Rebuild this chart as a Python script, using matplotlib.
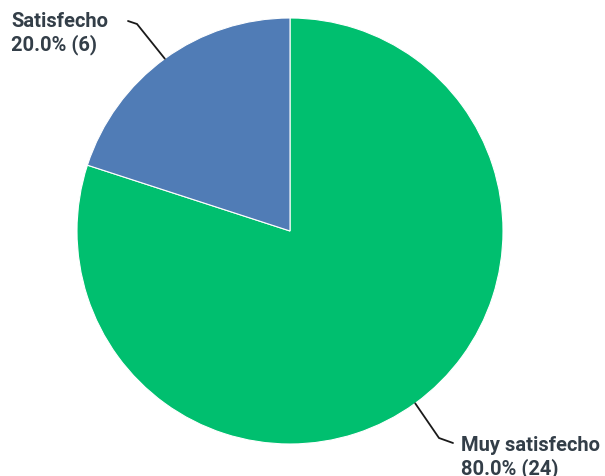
import numpy as np
import matplotlib.pyplot as plt
from matplotlib.path import Path
from matplotlib.patches import PathPatch

labels = ["Muy satisfecho", "Satisfecho"]
counts = [24, 6]
colors = ["#00bf6f", "#507cb6"]

W, H = 605, 476
fig = plt.figure(figsize=(W / 100, H / 100), dpi=100)
ax = fig.add_axes([0, 0, 1, 1])

cx, cy, r = 290, H - 231, 213
wedges, _ = ax.pie(counts, colors=colors, startangle=90, counterclock=False,
                   center=(cx, cy), radius=r, frame=True,
                   wedgeprops=dict(edgecolor="white", linewidth=0.8))
ax.set_xlim(0, W)
ax.set_ylim(0, H)
ax.set_aspect("equal")
ax.axis("off")

total = sum(counts)
txt_color = "#333e48"
font = dict(family="Roboto", fontsize=14.5, fontweight="semibold", color=txt_color,
            linespacing=1.2)

# label anchor (top-left of text) and leader line bend/end points
layout = {
    "Muy satisfecho": dict(text=(461, H - 436), bend=(439, H - 438), end=(453, H - 443)),
    "Satisfecho": dict(text=(11, H - 12), bend=(137, H - 24), end=(128, H - 21)),
}

for w, lab, n in zip(wedges, labels, counts):
    mid = np.deg2rad((w.theta1 + w.theta2) / 2)
    p0 = (cx + r * np.cos(mid), cy + r * np.sin(mid))
    L = layout[lab]
    ctrl = L["bend"]
    path = Path([p0, ctrl, ctrl, L["end"]],
                [Path.MOVETO, Path.LINETO, Path.CURVE3, Path.CURVE3])
    ax.add_patch(PathPatch(path, fill=False, edgecolor="#1a1a1a", lw=1.3,
                           capstyle="round"))
    ax.text(L["text"][0], L["text"][1], f"{lab}\n{100 * n / total:.1f}% ({n})",
            ha="left", va="top", **font)

fig.savefig("out.png", dpi=100)
